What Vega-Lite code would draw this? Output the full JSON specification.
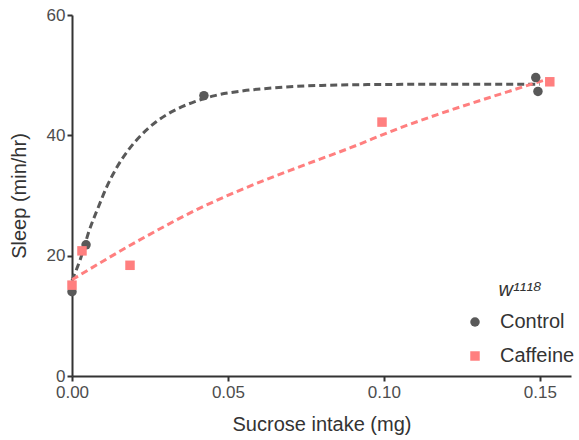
{
  "$schema": "https://vega.github.io/schema/vega-lite/v6.json",
  "autosize": "none",
  "width": 499,
  "height": 361,
  "padding": {"left": 72, "top": 15, "right": 8, "bottom": 64},
  "background": "white",
  "config": {
    "view": {"stroke": null},
    "font": "Liberation Sans",
    "axis": {
      "domainColor": "#333333",
      "domainWidth": 2,
      "tickColor": "#333333",
      "tickWidth": 2,
      "tickSize": 5,
      "grid": false,
      "labelFont": "Liberation Sans",
      "labelFontSize": 17,
      "labelColor": "#4d4d4d",
      "labelFlush": false,
      "titleFont": "Liberation Sans",
      "titleFontSize": 20,
      "titleFontWeight": "normal",
      "titleColor": "#333333"
    },
    "legend": {
      "labelFont": "Liberation Sans",
      "labelFontSize": 20,
      "labelColor": "#333333",
      "titleFont": "Liberation Sans",
      "titleFontSize": 20,
      "titleFontStyle": "italic",
      "titleFontWeight": "normal",
      "titleColor": "#333333"
    }
  },
  "datasets": {
    "pts": [
      {"group": "Control", "x": 0.0, "y": 14.0},
      {"group": "Control", "x": 0.0045, "y": 21.8},
      {"group": "Control", "x": 0.0423, "y": 46.6},
      {"group": "Control", "x": 0.1487, "y": 49.6},
      {"group": "Control", "x": 0.1494, "y": 47.3},
      {"group": "Caffeine", "x": 0.0, "y": 15.1},
      {"group": "Caffeine", "x": 0.0032, "y": 20.8},
      {"group": "Caffeine", "x": 0.0186, "y": 18.4},
      {"group": "Caffeine", "x": 0.0994, "y": 42.2},
      {"group": "Caffeine", "x": 0.1532, "y": 48.9}
    ],
    "fit": [
      {"group": "Control", "x": 0.0, "y": 15.9},
      {"group": "Control", "x": 0.0026, "y": 19.3},
      {"group": "Control", "x": 0.0058, "y": 24.6},
      {"group": "Control", "x": 0.0084, "y": 28.0},
      {"group": "Control", "x": 0.0111, "y": 31.4},
      {"group": "Control", "x": 0.0143, "y": 34.6},
      {"group": "Control", "x": 0.018, "y": 37.5},
      {"group": "Control", "x": 0.0223, "y": 40.1},
      {"group": "Control", "x": 0.0271, "y": 42.3},
      {"group": "Control", "x": 0.033, "y": 44.2},
      {"group": "Control", "x": 0.0394, "y": 45.6},
      {"group": "Control", "x": 0.0458, "y": 46.6},
      {"group": "Control", "x": 0.055, "y": 47.4},
      {"group": "Control", "x": 0.065, "y": 47.9},
      {"group": "Control", "x": 0.08, "y": 48.3},
      {"group": "Control", "x": 0.1, "y": 48.45},
      {"group": "Control", "x": 0.125, "y": 48.5},
      {"group": "Control", "x": 0.15, "y": 48.5},
      {"group": "Caffeine", "x": 0.0, "y": 16.0},
      {"group": "Caffeine", "x": 0.0234, "y": 23.1},
      {"group": "Caffeine", "x": 0.041, "y": 27.9},
      {"group": "Caffeine", "x": 0.049, "y": 29.8},
      {"group": "Caffeine", "x": 0.0731, "y": 34.8},
      {"group": "Caffeine", "x": 0.0891, "y": 37.9},
      {"group": "Caffeine", "x": 0.105, "y": 41.2},
      {"group": "Caffeine", "x": 0.1169, "y": 43.4},
      {"group": "Caffeine", "x": 0.1382, "y": 47.0},
      {"group": "Caffeine", "x": 0.151, "y": 49.1}
    ]
  },
  "layer": [
    {
      "data": {"name": "fit"},
      "transform": [{"filter": "datum.group == 'Control'"}],
      "mark": {"type": "line", "strokeWidth": 3, "strokeDash": [7, 4], "interpolate": "monotone", "color": "#595959"},
      "encoding": {
        "x": {"field": "x", "type": "quantitative"},
        "y": {"field": "y", "type": "quantitative"}
      }
    },
    {
      "data": {"name": "fit"},
      "transform": [{"filter": "datum.group == 'Caffeine'"}],
      "mark": {"type": "line", "strokeWidth": 3, "strokeDash": [7, 4], "interpolate": "monotone", "color": "#ff7f7f"},
      "encoding": {
        "x": {"field": "x", "type": "quantitative"},
        "y": {"field": "y", "type": "quantitative"}
      }
    },
    {
      "data": {"name": "pts"},
      "mark": {"type": "point", "filled": true, "opacity": 1},
      "encoding": {
        "x": {
          "field": "x", "type": "quantitative",
          "scale": {"domain": [0, 0.16], "nice": false, "zero": false},
          "axis": {"values": [0, 0.05, 0.1, 0.15], "format": ".2f", "title": "Sucrose intake (mg)", "titlePadding": 14, "labelPadding": 3}
        },
        "y": {
          "field": "y", "type": "quantitative",
          "scale": {"domain": [0, 60], "nice": false},
          "axis": {"values": [0, 20, 40, 60], "title": "Sleep (min/hr)", "titlePadding": 17, "labelPadding": 2}
        },
        "color": {
          "field": "group", "type": "nominal",
          "scale": {"domain": ["Control", "Caffeine"], "range": ["#595959", "#ff7f7f"]},
          "legend": {
            "title": "w¹¹¹⁸",
            "orient": "none",
            "legendX": 393,
            "legendY": 265,
            "titleAnchor": "middle",
            "titlePadding": 12,
            "rowPadding": 14,
            "symbolSize": 90,
            "labelOffset": 15
          }
        },
        "shape": {
          "field": "group", "type": "nominal",
          "scale": {"domain": ["Control", "Caffeine"], "range": ["circle", "square"]}
        },
        "size": {"value": 90}
      }
    }
  ]
}
